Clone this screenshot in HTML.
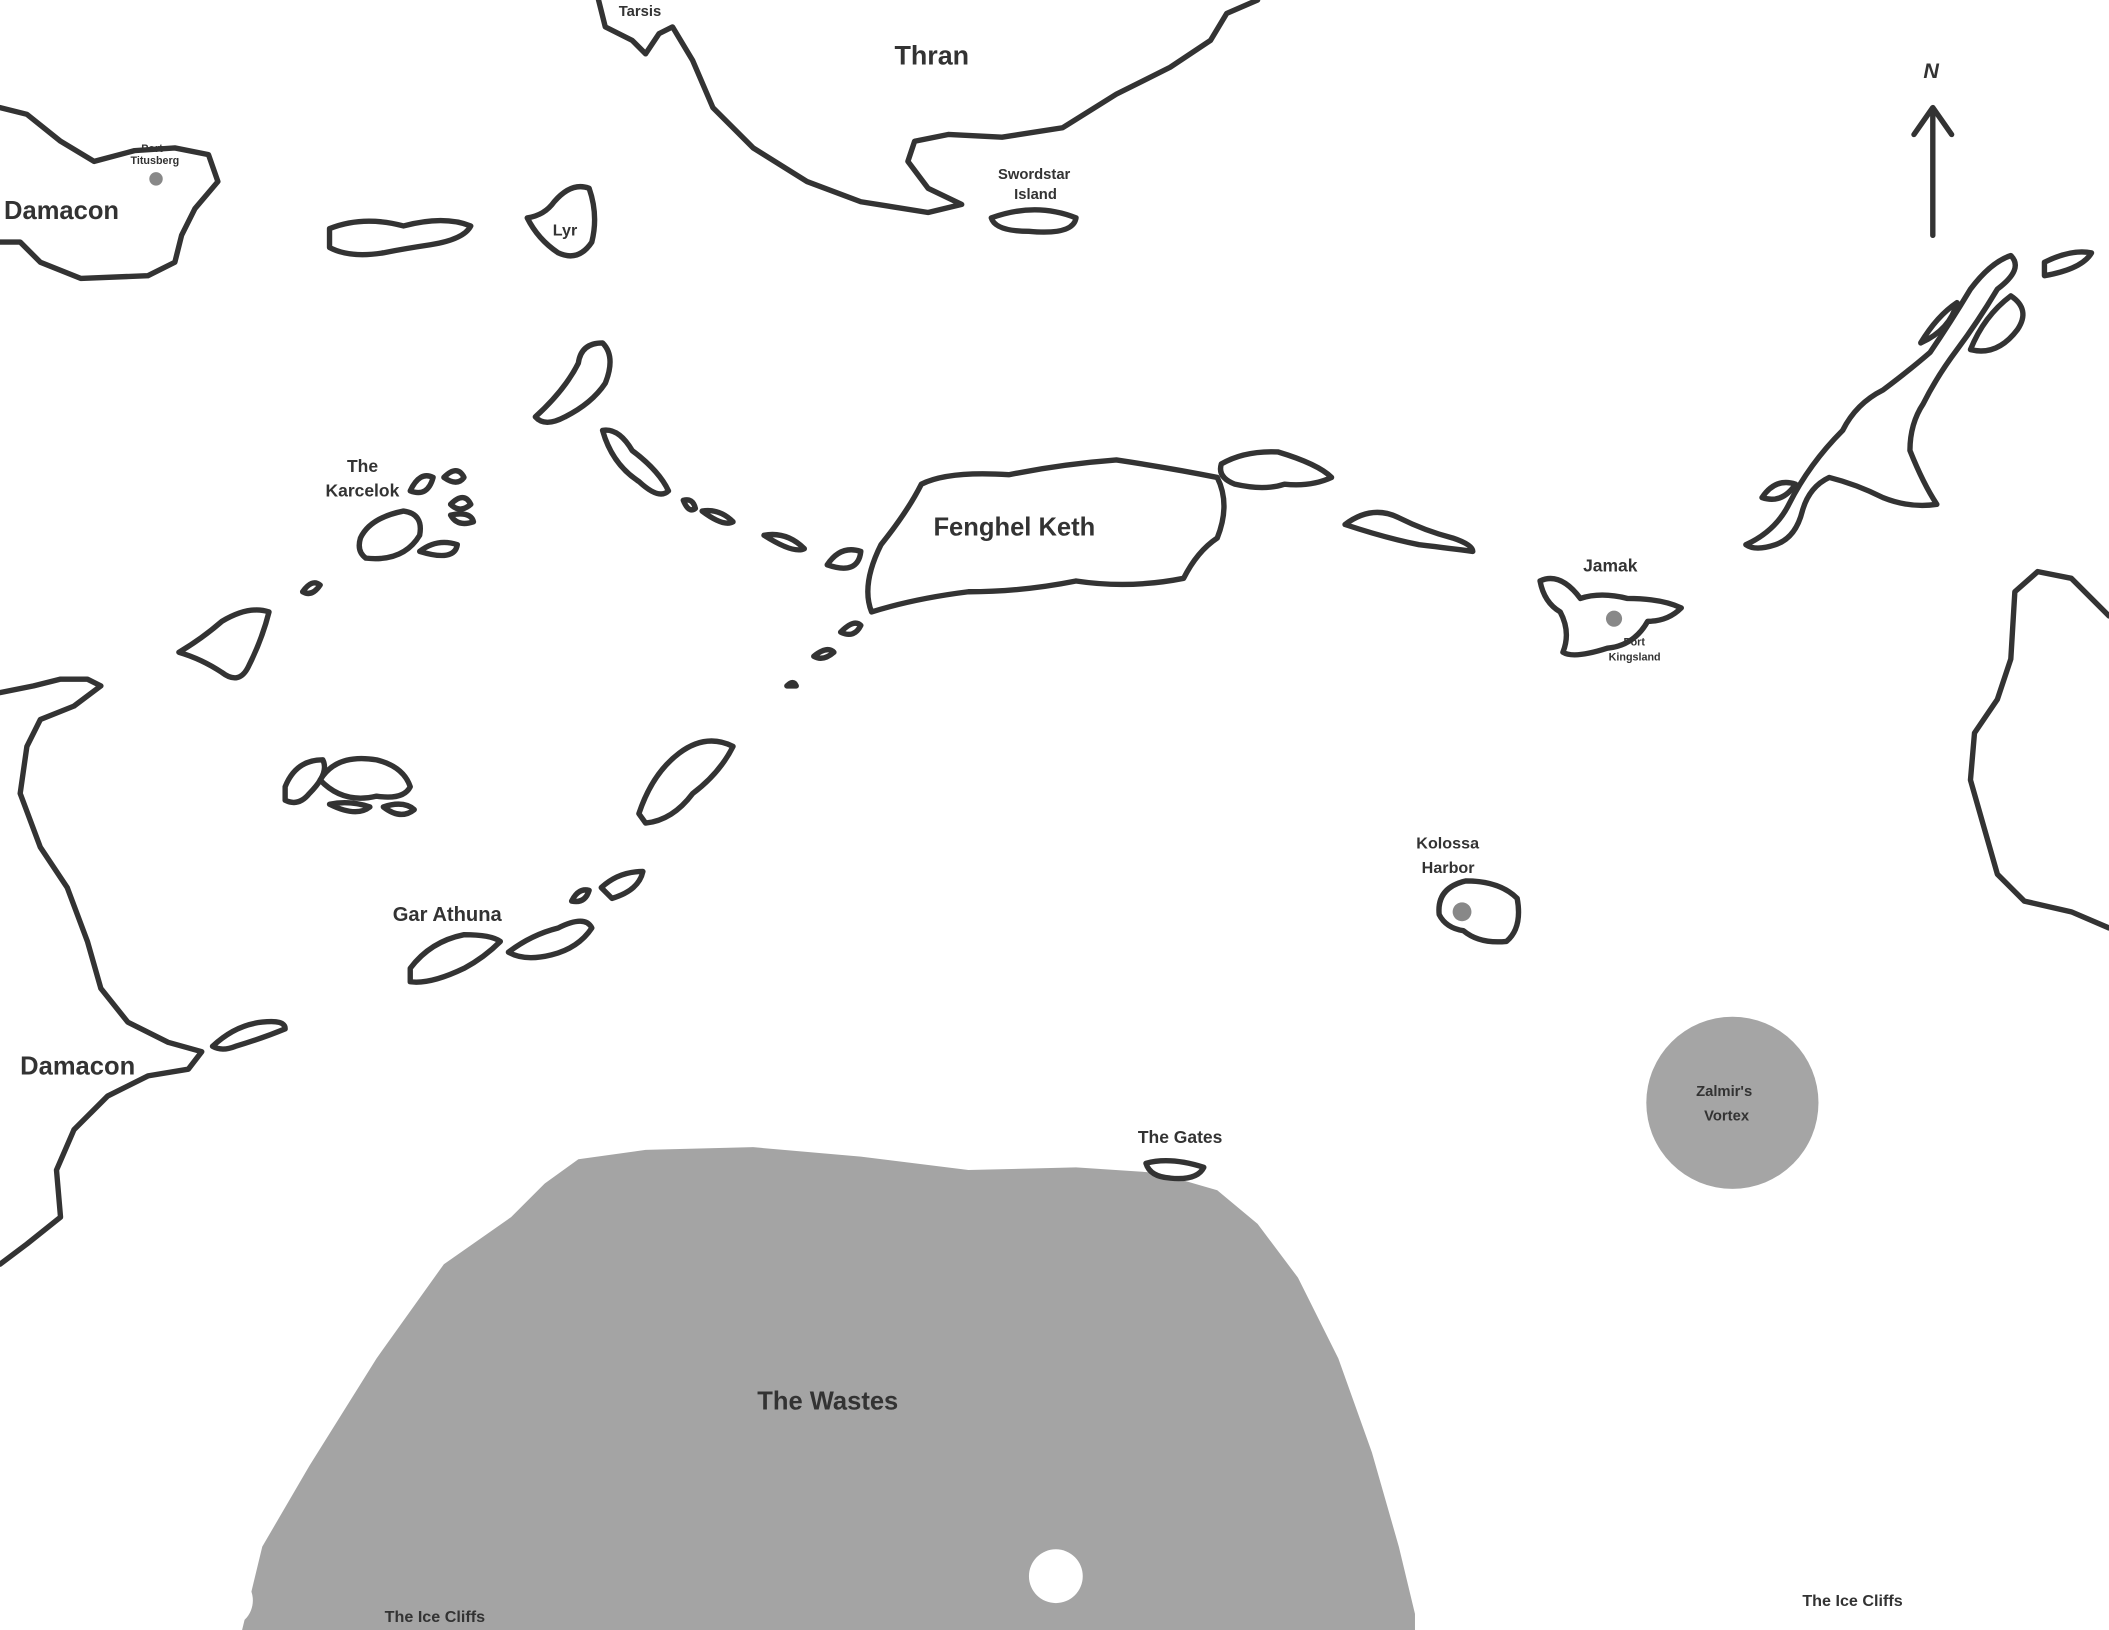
<!DOCTYPE html>
<html><head><meta charset="utf-8"><style>
html,body{margin:0;padding:0;background:#fff;}
svg{display:block;}
text{font-family:"Liberation Sans",sans-serif;font-weight:bold;fill:#333;}
</style></head><body>
<svg width="2109" height="1630" viewBox="0 0 1568 1212" preserveAspectRatio="none" xmlns="http://www.w3.org/2000/svg">
<rect width="1568" height="1212" fill="#fff"/>
<!-- Wastes -->
<path d="M180,1212 L195,1150 L230,1090 L280,1010 L330,940 L380,905 L405,880 L430,862 L480,855 L560,853 L640,860 L720,870 L800,868 L860,872 L905,885 L935,910 L965,950 L995,1010 L1020,1080 L1040,1150 L1052,1200 L1052,1212 Z" fill="#a4a4a4"/>
<circle cx="168" cy="1190" r="20" fill="#fff"/>
<circle cx="785" cy="1172" r="20" fill="#fff"/>
<!-- Vortex -->
<circle cx="1288" cy="820" r="64" fill="#a5a5a5"/>
<g fill="none" stroke="#333" stroke-width="4" stroke-linejoin="round" stroke-linecap="round">
<path d="M445,0 L450,20 L470,30 L480,40 L490,25 L500,20 L515,45 L530,80 L560,110 L600,135 L640,150 L690,158 L715,152 L690,140 L675,120 L680,105 L705,100 L745,102 L790,95 L830,70 L870,50 L900,30 L912,10 L935,0"/>
<path d="M0,80 L20,85 L45,105 L70,120 L100,112 L130,110 L155,115 L162,135 L145,155 L135,175 L130,195 L110,205 L60,207 L30,195 L15,180 L0,180"/>
<path d="M0,515 L25,510 L45,505 L65,505 L75,510 L55,525 L30,535 L20,555 L15,590 L30,630 L50,660 L65,700 L75,735 L95,760 L125,775 L150,782 L140,795 L110,800 L80,815 L55,840 L42,870 L45,905 L20,925 L0,940"/>
<path d="M1568,458 L1540,430 L1515,425 L1498,440 L1495,490 L1485,520 L1468,545 L1465,580 L1475,615 L1485,650 L1505,670 L1540,678 L1568,690"/>
<path d="M737,162 Q770,150 800,162 Q798,175 765,172 Q740,172 737,162Z"/>
<path d="M392,162 Q405,160 412,150 Q425,135 438,140 Q445,160 440,180 Q430,195 415,188 Q400,178 392,162Z"/>
<path d="M245,170 Q270,160 300,168 Q330,160 350,168 Q345,178 320,182 Q300,185 285,188 Q260,192 245,184Z"/>
<path d="M398,310 Q420,290 430,270 Q432,255 448,255 Q458,265 450,285 Q440,300 420,310 Q405,318 398,310Z"/>
<path d="M448,320 Q460,318 470,335 Q490,350 497,365 Q490,372 475,358 Q455,345 448,320Z"/>
<path d="M508,372 Q515,370 517,378 Q512,382 508,372Z"/>
<path d="M522,380 Q535,378 545,388 Q538,392 522,380Z"/>
<path d="M568,398 Q585,395 598,408 Q590,412 568,398Z"/>
<path d="M615,420 Q625,405 640,410 Q638,428 615,420Z"/>
<path d="M625,470 Q635,460 640,465 Q635,475 625,470Z"/>
<path d="M605,488 Q615,480 620,485 Q612,492 605,488Z"/>
<path d="M585,510 Q590,505 592,510 Z"/>
<path d="M648,455 Q640,435 655,405 Q675,380 685,360 Q705,350 750,353 Q790,345 830,342 Q870,348 905,355 Q915,375 905,400 Q890,410 880,430 Q840,438 800,432 Q760,440 720,440 Q680,445 648,455Z"/>
<path d="M908,345 Q925,335 950,336 Q980,345 990,355 Q975,362 955,360 Q940,365 918,360 Q905,355 908,345Z"/>
<path d="M1000,390 Q1020,375 1040,385 Q1060,395 1080,400 Q1095,405 1095,410 Q1080,408 1055,405 Q1030,400 1000,390Z"/>
<path d="M1145,432 Q1160,425 1175,445 Q1190,440 1210,445 Q1235,445 1250,452 Q1240,462 1225,462 Q1215,480 1195,482 Q1170,490 1162,485 Q1168,470 1160,455 Q1148,448 1145,432Z"/>
<path d="M1298,405 Q1320,395 1330,375 Q1345,345 1370,320 Q1380,300 1400,290 Q1420,275 1435,262 Q1450,240 1465,215 Q1480,195 1495,190 Q1505,200 1485,215 Q1470,240 1455,260 Q1440,280 1430,300 Q1420,315 1420,335 Q1430,360 1440,375 Q1420,378 1400,370 Q1380,360 1360,355 Q1345,362 1340,380 Q1335,400 1320,405 Q1305,410 1298,405Z"/>
<path d="M1310,370 Q1320,355 1335,360 Q1325,375 1310,370Z"/>
<path d="M1520,195 Q1540,185 1555,188 Q1548,200 1520,205Z"/>
<path d="M1465,260 Q1475,235 1495,220 Q1510,230 1500,245 Q1485,265 1465,260Z"/>
<path d="M1428,255 Q1440,235 1455,225 Q1450,245 1428,255Z"/>
<path d="M268,400 Q275,385 300,380 Q315,382 312,398 Q300,418 272,415 Q265,410 268,400Z"/>
<path d="M305,365 Q312,350 322,355 Q318,370 305,365Z"/>
<path d="M330,355 Q340,345 345,355 Q340,362 330,355Z"/>
<path d="M335,375 Q345,365 350,375 Q342,382 335,375Z"/>
<path d="M335,383 Q350,380 352,388 Q340,392 335,383Z"/>
<path d="M312,410 Q325,400 340,405 Q338,418 312,410Z"/>
<path d="M225,440 Q232,430 238,435 Q232,444 225,440Z"/>
<path d="M133,485 Q150,475 165,462 Q185,450 200,455 Q195,475 185,495 Q178,510 165,500 Q150,490 133,485Z"/>
<path d="M212,585 Q220,565 240,565 Q245,575 230,590 Q222,600 212,595Z"/>
<path d="M238,580 Q250,560 280,565 Q300,570 305,585 Q300,595 280,592 Q255,598 238,580Z"/>
<path d="M245,598 Q260,595 275,600 Q265,608 245,598Z"/>
<path d="M285,600 Q300,595 308,602 Q298,610 285,600Z"/>
<path d="M475,605 Q485,575 505,560 Q525,545 545,555 Q535,575 515,590 Q500,610 480,612 Z"/>
<path d="M305,720 Q320,700 345,695 Q365,695 372,700 Q360,712 345,720 Q320,732 305,730Z"/>
<path d="M378,708 Q395,695 415,690 Q435,680 440,690 Q430,705 410,710 Q390,715 378,708Z"/>
<path d="M425,670 Q430,660 438,662 Q435,672 425,670Z"/>
<path d="M447,660 Q460,648 478,648 Q475,662 455,668Z"/>
<path d="M158,778 Q175,762 195,760 Q212,758 212,765 Q195,772 175,778 Q165,782 158,778Z"/>
<path d="M1070,680 Q1068,660 1090,655 Q1115,655 1128,668 Q1132,690 1120,700 Q1100,702 1088,692 Q1075,690 1070,680Z"/>
<path d="M852,865 Q870,860 895,868 Q890,878 870,876 Q855,875 852,865Z"/>
<path d="M1437,175 L1437,82 M1423,100 L1437,80 L1451,100"/>
</g>
<circle cx="116" cy="133" r="5" fill="#888"/>
<circle cx="1200" cy="460" r="6" fill="#888"/>
<circle cx="1087" cy="678" r="7" fill="#888"/>
<text x="1430" y="58" font-size="16" font-style="italic" font-weight="normal">N</text>
<text x="460" y="12" font-size="11">Tarsis</text>
<text x="665" y="48" font-size="20">Thran</text>
<text x="105" y="113" font-size="8">Port</text>
<text x="97" y="122" font-size="8">Titusberg</text>
<text x="3" y="163" font-size="19">Damacon</text>
<text x="742" y="133" font-size="11">Swordstar</text>
<text x="754" y="148" font-size="11">Island</text>
<text x="411" y="175" font-size="12">Lyr</text>
<text x="258" y="351" font-size="13">The</text>
<text x="242" y="369" font-size="13">Karcelok</text>
<text x="694" y="398" font-size="19">Fenghel Keth</text>
<text x="1177" y="425" font-size="13">Jamak</text>
<text x="1207" y="480" font-size="8">Port</text>
<text x="1196" y="491" font-size="8">Kingsland</text>
<text x="1053" y="631" font-size="12">Kolossa</text>
<text x="1057" y="649" font-size="12">Harbor</text>
<text x="292" y="685" font-size="15" fill="#000">Gar Athuna</text>
<text x="15" y="799" font-size="19">Damacon</text>
<text x="1261" y="815" font-size="11">Zalmir's</text>
<text x="1267" y="833" font-size="11">Vortex</text>
<text x="846" y="850" font-size="13">The Gates</text>
<text x="563" y="1048" font-size="19">The Wastes</text>
<text x="286" y="1206" font-size="12">The Ice Cliffs</text>
<text x="1340" y="1194" font-size="12">The Ice Cliffs</text>
</svg>
</body></html>
